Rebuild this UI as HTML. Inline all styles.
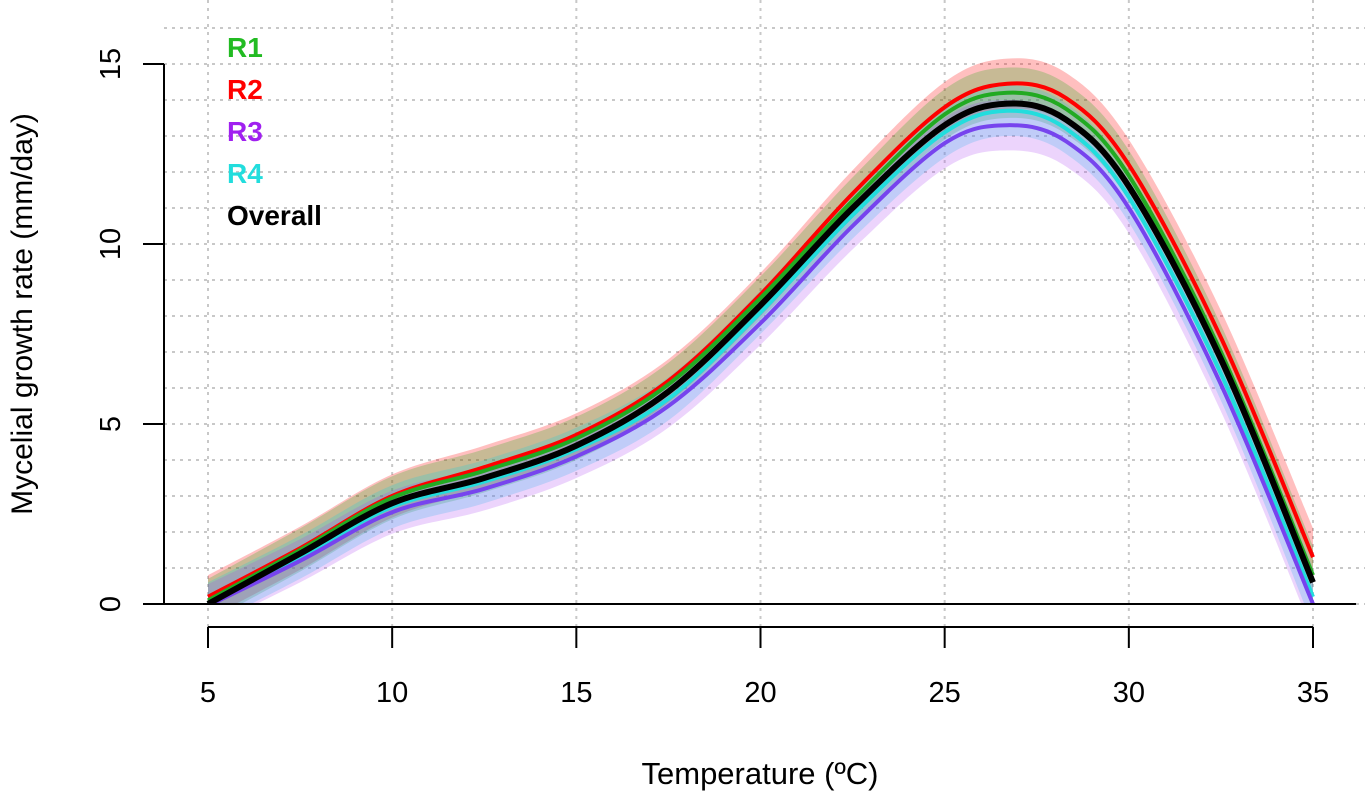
<!DOCTYPE html>
<html><head><meta charset="utf-8"><style>
body{margin:0;background:#fff}
svg{display:block;font-family:"Liberation Sans",Arial,sans-serif}
</style></head><body>
<svg id="chart" width="1365" height="798">
<defs><clipPath id="clip"><rect x="164" y="0" width="1201" height="604"/></clipPath></defs>
<g id="grid"></g>
<g id="bands" clip-path="url(#clip)"></g>
<g id="lines" clip-path="url(#clip)"></g>
<g id="axes"></g>
<text x="32" y="314" font-size="30" text-anchor="middle" transform="rotate(-90 32 314)">Mycelial growth rate (mm/day)</text>
<text x="760" y="784" font-size="31" text-anchor="middle">Temperature (ºC)</text>
<g font-size="28" font-weight="bold">
<text x="227" y="57" fill="#22bb22">R1</text>
<text x="227" y="99" fill="#ff0000">R2</text>
<text x="227" y="141" fill="#a020f0">R3</text>
<text x="227" y="183" fill="#22dddd">R4</text>
<text x="227" y="225" fill="#000">Overall</text>
</g>
</svg>
<script>
const temps=[5,7.5,10,12.5,15,17.5,20,22.5,25,26.7,28.3,30,32.5,35];
const overall=[0,1.4,2.8,3.5,4.4,5.9,8.3,11.0,13.3,13.9,13.45,11.6,6.8,0.6];
const r1=[0.1,1.5,2.95,3.7,4.6,6.1,8.5,11.2,13.6,14.2,13.75,11.9,7.0,0.8];
const r2=[0.2,1.55,3.0,3.8,4.7,6.2,8.6,11.4,13.8,14.45,14.05,12.2,7.4,1.3];
const r3=[-0.05,1.2,2.55,3.2,4.1,5.5,7.8,10.5,12.8,13.3,12.85,11.0,6.1,0.0];
const r4=[0,1.3,2.7,3.4,4.3,5.7,8.1,10.8,13.1,13.7,13.2,11.3,6.4,0.2];
const bandHalf=[0.6,0.6,0.6,0.6,0.6,0.6,0.6,0.65,0.7,0.7,0.7,0.7,0.75,0.8];
const xTicks=[5,10,15,20,25,30,35];
const yTicks=[0,5,10,15];
const ns="http://www.w3.org/2000/svg";
const X=t=>208+(t-5)*(1105/30);
const Y=v=>604-v*36;
function mk(tag,attrs,parent){const e=document.createElementNS(ns,tag);for(const k in attrs)e.setAttribute(k,attrs[k]);parent.appendChild(e);return e;}
function smooth(pts){let d="M"+pts[0][0]+","+pts[0][1];for(let i=0;i<pts.length-1;i++){const p0=pts[Math.max(0,i-1)],p1=pts[i],p2=pts[i+1],p3=pts[Math.min(pts.length-1,i+2)];const c1=[p1[0]+(p2[0]-p0[0])/6,p1[1]+(p2[1]-p0[1])/6],c2=[p2[0]-(p3[0]-p1[0])/6,p2[1]-(p3[1]-p1[1])/6];d+=" C"+c1+" "+c2+" "+p2;}return d;}
const grid=document.getElementById('grid');
for(let v=0;v<=16;v++){const l=mk('line',{x1:164,x2:1365,y1:Y(v),y2:Y(v),stroke:'#c8c8c8','stroke-width':2,'stroke-dasharray':'3,5'},grid);

}
for(const t of [5,10,15,20,25,30,35]){const l=mk('line',{x1:X(t),x2:X(t),y1:0,y2:627,stroke:'#c8c8c8','stroke-width':2,'stroke-dasharray':'3,5'},grid);

}
const series=[{n:'r2',v:r2,c:'#ff0000',b:'rgba(255,0,0,0.25)'},{n:'r1',v:r1,c:'#22aa22',b:'rgba(0,170,0,0.22)'},{n:'r4',v:r4,c:'#22dddd',b:'rgba(0,210,230,0.22)'},{n:'r3',v:r3,c:'#7744ee',b:'rgba(170,60,240,0.22)'}];
const bands=document.getElementById('bands'),lines=document.getElementById('lines');
series.forEach(s=>{const up=temps.map((t,i)=>[X(t),Y(s.v[i]+bandHalf[i])]);const lo=temps.map((t,i)=>[X(t),Y(s.v[i]-bandHalf[i])]).reverse();
const d=smooth(up)+" L"+lo[0]+smooth(lo).replace(/^M[^ ]+/,"")+" Z";
const p=mk('path',{d:d,fill:s.b,stroke:'none'},bands);

});
series.forEach(s=>{const p=mk('path',{d:smooth(temps.map((t,i)=>[X(t),Y(s.v[i])])),fill:'none',stroke:s.c,'stroke-width':4},lines);

});
const ov=mk('path',{d:smooth(temps.map((t,i)=>[X(t),Y(overall[i])])),fill:'none',stroke:'#000','stroke-width':6},lines);


const ax=document.getElementById('axes');
mk('line',{x1:143,x2:1356,y1:604,y2:604,stroke:'#000','stroke-width':2},ax);
mk('line',{x1:164,x2:164,y1:Y(15),y2:604,stroke:'#000','stroke-width':2},ax);
mk('line',{x1:X(5),x2:X(35),y1:627,y2:627,stroke:'#000','stroke-width':2},ax);
yTicks.forEach(v=>{mk('line',{x1:143,x2:164,y1:Y(v),y2:Y(v),stroke:'#000','stroke-width':2},ax);
const t=mk('text',{x:120,y:Y(v),'font-size':29,'text-anchor':'middle',transform:`rotate(-90 120 ${Y(v)})`},ax);t.textContent=v;

});
xTicks.forEach(v=>{mk('line',{x1:X(v),x2:X(v),y1:627,y2:648,stroke:'#000','stroke-width':2},ax);
const t=mk('text',{x:X(v),y:702,'font-size':29,'text-anchor':'middle'},ax);t.textContent=v;

});
</script>
</body></html>
